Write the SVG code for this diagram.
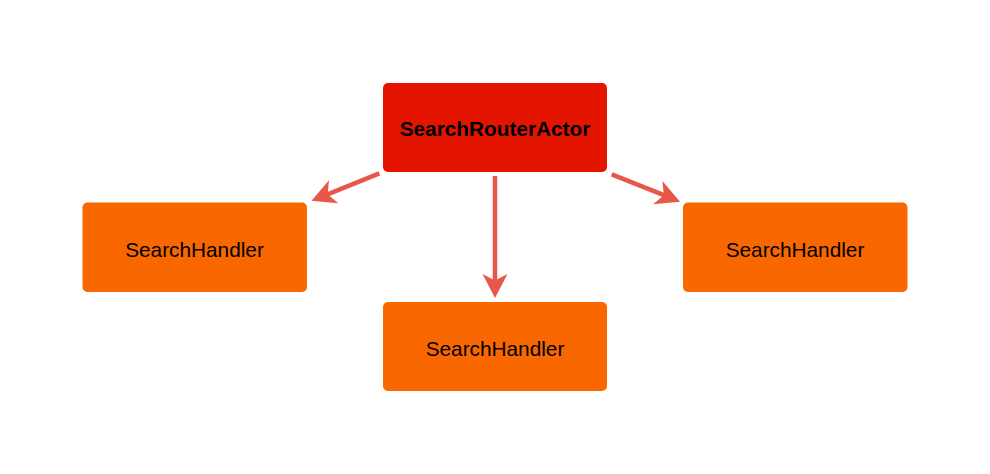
<svg xmlns="http://www.w3.org/2000/svg" width="990" height="474" viewBox="0 0 990 474">
<style>
.router rect{fill:#e31500;}
.handler rect{fill:#f96700;}
text{font-family:"Liberation Sans",Arial,sans-serif;font-size:20.8px;fill:#000;text-anchor:middle;}
.router text{font-weight:bold;}
.edge{stroke:#e8584a;stroke-width:4.5;fill:none;marker-end:url(#arrow);}
</style>
<defs>
<marker id="arrow" markerUnits="userSpaceOnUse" markerWidth="26" markerHeight="26" refX="8" refY="13" orient="auto" viewBox="0 0 26 26">
<path d="M0,0.5 L24,13 L0,25.5 L6.5,13 Z" fill="#e8584a"/>
</marker>
</defs>
<rect width="990" height="474" fill="#fff"/>
<g id="edges">
<path class="edge" d="M379.3,173.3 L326.3,194.8"/>
<path class="edge" d="M495,176 L495,282"/>
<path class="edge" d="M611.7,174.3 L665.2,195.7"/>
</g>
<g id="router" class="router">
<rect x="383" y="83" width="224" height="89" rx="5"/>
<text x="495" y="136">SearchRouterActor</text>
</g>
<g id="handler1" class="handler">
<rect x="82.5" y="202.5" width="224.5" height="89.5" rx="5"/>
<text x="194.5" y="257">SearchHandler</text>
</g>
<g id="handler2" class="handler">
<rect x="383" y="302" width="224" height="89" rx="5"/>
<text x="495" y="356">SearchHandler</text>
</g>
<g id="handler3" class="handler">
<rect x="683" y="202.5" width="224.5" height="89.5" rx="5"/>
<text x="795" y="257">SearchHandler</text>
</g>
</svg>
